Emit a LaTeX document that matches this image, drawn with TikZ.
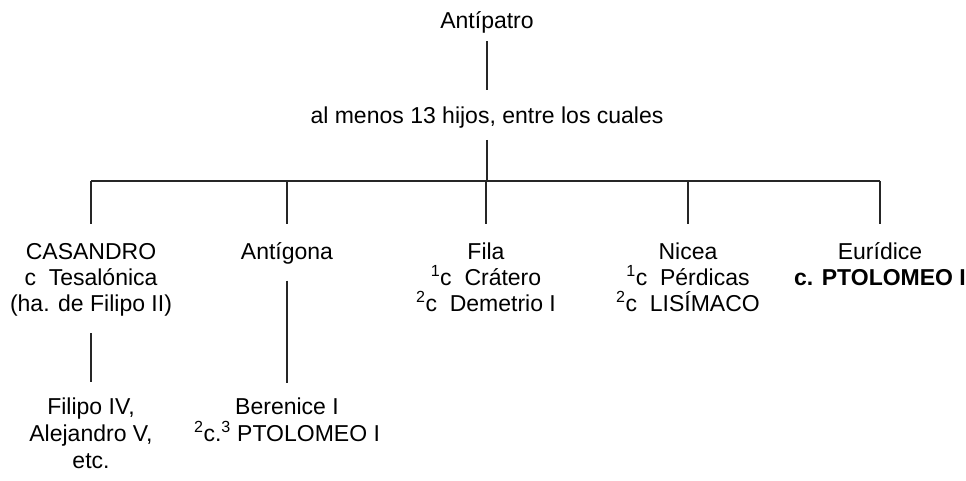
\documentclass[tikz,border=0pt]{standalone}
\usepackage{fontspec}
\setmainfont{Liberation Sans}
\newcommand{\firstln}[1]{\smash{#1}\rule{0pt}{16.5pt}}
\begin{document}
\begin{tikzpicture}[x=1pt,y=-1pt,
  every node/.style={inner sep=0pt, outer sep=0pt, align=center, anchor=north,
    font=\fontsize{23}{26}\selectfont, text=black},
  lowrow/.style={font=\fontsize{23}{27}\selectfont},
  link/.style={line width=1.4pt, draw=black!85}]
\useasboundingbox (0,0) rectangle (966,481);
\node (ant) at (487,12.5) {\firstln{Antípatro}};
\node (hij) at (487,107) {\firstln{al menos 13 hijos, entre los cuales}};
\coordinate (bar) at (487,181);
\node (cas) at (91,243) {\firstln{CASANDRO}\\c\ \ Tesalónica\\(ha. de Filipo II)};
\node (anti) at (287,243) {\firstln{Antígona}};
\node (fil) at (486,243) {\firstln{Fila}\\\textsuperscript{1}c\ \ Crátero\\\textsuperscript{2}c\ \ Demetrio I};
\node (nic) at (688,243) {\firstln{Nicea}\\\textsuperscript{1}c\ \ Pérdicas\\\textsuperscript{2}c\ \ LISÍMACO};
\node (eur) at (880,243) {\firstln{Eurídice}\\\textbf{c. PTOLOMEO I}};
\node[lowrow] (fip) at (91,398) {\firstln{Filipo IV,}\\Alejandro V,\\etc.};
\node[lowrow] (ber) at (287,398) {\firstln{Berenice I}\\\textsuperscript{2}c.\textsuperscript{3} PTOLOMEO I};
\draw[link, shorten <=12.5pt, shorten >=17pt] (ant.south) -- (hij.north);
\draw[link, shorten <=16.5pt] (hij.south) -- (bar);
\draw[link] (bar -| cas.north) -- (bar -| eur.north);
\foreach \n in {cas,anti,fil,nic,eur}
  \draw[link, shorten >=19pt] (bar -| \n.north) -- (\n.north);
\draw[link, shorten <=17pt, shorten >=16pt] (cas.south) -- (fip.north);
\draw[link, shorten <=21pt, shorten >=15pt] (anti.south) -- (ber.north);
\end{tikzpicture}
\end{document}
